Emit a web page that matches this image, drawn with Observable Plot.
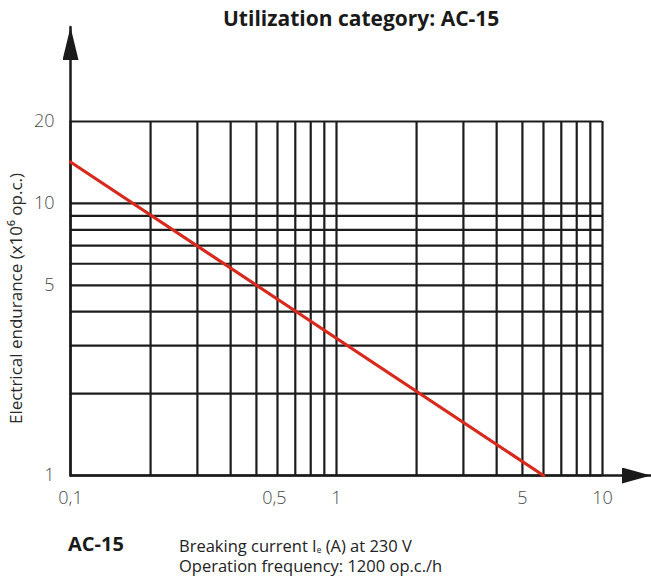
<!DOCTYPE html>
<html>
<head>
<meta charset="utf-8">
<script src="https://cdn.jsdelivr.net/npm/d3@7"></script>
<script src="https://cdn.jsdelivr.net/npm/@observablehq/plot@0.6"></script>
<style>
  html, body { margin: 0; padding: 0; background: #fff; }
  #wrap { position: relative; width: 651px; height: 585px; font-family: "Open Sans", sans-serif; color: #1a1a1a; }
  #chart { position: absolute; left: 0; top: 0; }
  .t { position: absolute; white-space: nowrap; }
  #title { left: 223px; top: 8px; font-size: 21px; line-height: 21px; font-weight: 700; }
  #cat { left: 68px; top: 534px; font-size: 20px; line-height: 20px; font-weight: 700; }
  #cap1 { left: 179px; top: 536px; font-size: 16.5px; line-height: 19px; color: #222; }
  #cap2 { left: 179px; top: 555.5px; font-size: 16.5px; line-height: 19px; color: #222; }
  sub { font-size: 0.5em; vertical-align: -0.15em; line-height: 0; }
</style>
</head>
<body>
<div id="wrap">
  <div id="chart"></div>
  <div class="t" id="title">Utilization category: AC-15</div>
  <div class="t" id="cat">AC-15</div>
  <div class="t" id="cap1">Breaking current I<sub>e</sub> (A) at 230 V</div>
  <div class="t" id="cap2">Operation frequency: 1200 op.c./h</div>
</div>
<script>
// Grid values (log paper)
const xGrid = [0.1, 0.2, 0.3, 0.4, 0.5, 0.6, 0.7, 0.8, 0.9, 1, 2, 3, 4, 5, 6, 7, 8, 9, 10];
const yGrid = [1, 2, 3, 4, 5, 6, 7, 8, 9, 10, 20];
// Tick labels
const xTickLabels = [0.1, 1, 5, 10];
const xTickLabelsShifted = [0.5];
const yTickLabels = [1, 5, 10, 20];
const yLabel = ["Electrical endurance (x10⁶ op.c.)"];
// Endurance curve (breaking current A, endurance x10^6 op.c.)
const currentA = [0.1, 6.0];
const endurance = [14.2, 1];
// Axis arrow ends (data units)
const xAxisEnd = 15.2;
const yAxisEnd = 44.5;

const curve = currentA.map((x, i) => ({x, y: endurance[i]}));
const fmt = d => String(d).replace(".", ",");

function arrowHead(len, wid) {
  return (color, context) => {
    const doc = (context && context.document) || document;
    const ns = "http://www.w3.org/2000/svg";
    const m = doc.createElementNS(ns, "marker");
    m.setAttribute("viewBox", `0 ${-wid / 2} ${len} ${wid}`);
    m.setAttribute("markerWidth", len);
    m.setAttribute("markerHeight", wid);
    m.setAttribute("markerUnits", "userSpaceOnUse");
    m.setAttribute("refX", len);
    m.setAttribute("refY", 0);
    m.setAttribute("orient", "auto");
    const p = doc.createElementNS(ns, "path");
    p.setAttribute("d", `M0,${-wid / 2}L${len},0L0,${wid / 2}Z`);
    p.setAttribute("fill", "#1a1a1a");
    p.setAttribute("stroke", "none");
    m.appendChild(p);
    return m;
  };
}

const gridColor = "#1c1c1c";
const tickStyle = {fontSize: 18, fontWeight: 300, fill: "#4a4a4a", fontFamily: "Open Sans"};

const plot = Plot.plot({
  width: 651,
  height: 530,
  marginLeft: 70,
  marginRight: 49,
  marginTop: 121,
  marginBottom: 55,
  style: {fontFamily: "Open Sans, sans-serif", background: "transparent", overflow: "visible"},
  x: {type: "log", domain: [0.1, 10], axis: null},
  y: {type: "log", domain: [1, 20], axis: null},
  marks: [
    Plot.ruleX(xGrid, {x: d => d, y1: 1, y2: 20, stroke: gridColor, strokeWidth: 2.2}),
    Plot.ruleY(yGrid, {y: d => d, x1: 0.1, x2: 10, stroke: gridColor, strokeWidth: 2.2}),
    Plot.line([{x: 0.1, y: 1}, {x: 0.1, y: yAxisEnd}], {x: "x", y: "y", stroke: "#1a1a1a", strokeWidth: 2.5, markerEnd: arrowHead(33, 16)}),
    Plot.line([{x: 0.1, y: 1}, {x: xAxisEnd, y: 1}], {x: "x", y: "y", stroke: "#1a1a1a", strokeWidth: 2.5, markerEnd: arrowHead(29, 16)}),
    Plot.line(curve, {x: "x", y: "y", stroke: "#d8291d", strokeWidth: 3.2}),
    Plot.text(xTickLabels, {x: d => d, y: () => 1, text: fmt, lineAnchor: "top", dy: 16, ...tickStyle}),
    Plot.text(xTickLabelsShifted, {x: d => d, y: () => 1, text: fmt, lineAnchor: "top", dy: 16, dx: 18, ...tickStyle}),
    Plot.text(yTickLabels, {x: () => 0.1, y: d => d, text: fmt, textAnchor: "end", lineAnchor: "middle", dx: -16, ...tickStyle}),
    Plot.text(yLabel, {text: d => d, frameAnchor: "left", textAnchor: "middle", lineAnchor: "middle", rotate: -90, dx: -54, fontSize: 17, fill: "#2a2a2a", fontFamily: "Open Sans"})
  ]
});
document.getElementById("chart").appendChild(plot);
</script>
</body>
</html>
